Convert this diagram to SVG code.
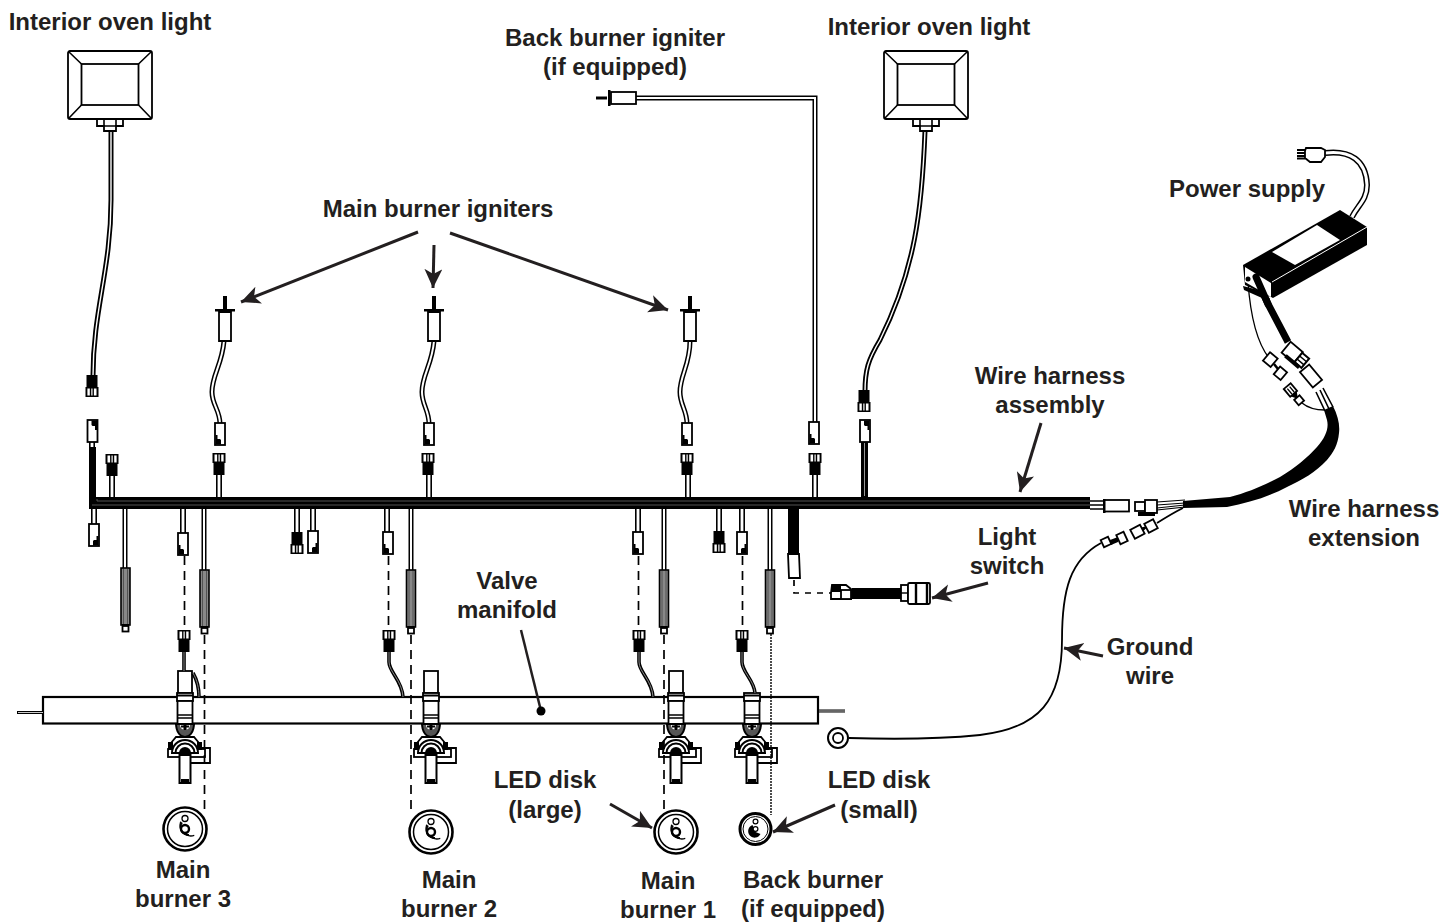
<svg xmlns="http://www.w3.org/2000/svg" width="1444" height="924" viewBox="0 0 1444 924">
<style>
text{font-family:"Liberation Sans",Arial,sans-serif;font-weight:700;font-size:24px;fill:#231f20;text-anchor:middle}
.l{fill:none;stroke:#000;stroke-width:1.6}
.s{fill:#fff;stroke:#000;stroke-width:1.8}
.k{fill:#000;stroke:none}
.wo{fill:none;stroke:#000;stroke-width:6}
.wi{fill:none;stroke:#fff;stroke-width:2.8}
.d{fill:none;stroke:#000;stroke-width:1.7;stroke-dasharray:9 6}
.a{fill:none;stroke:#231f20;stroke-width:3;marker-end:url(#ah)}
.vw{fill:none;stroke:#000;stroke-width:3.600}
.vi{fill:none;stroke:#888;stroke-width:1}
</style>
<defs>
<marker id="ah" markerUnits="userSpaceOnUse" markerWidth="24" markerHeight="20" refX="19" refY="9" orient="auto"><path d="M0,0 L19,9 L0,18 L5,9Z" fill="#231f20"/></marker>
<g id="wc"><rect class="s" x="-5" y="0" width="10" height="22"/><path class="k" d="M-4.500,12 H-2.500 V16 H0 L1,17 V21.500 H-4.500Z"/></g>
<g id="bc"><rect class="k" x="-6.500" y="0" width="13" height="10"/><rect x="-4.500" y="1.500" width="2.600" height="7" fill="#fff"/><rect x="-.5" y="1.500" width="1.200" height="7" fill="#fff"/><rect x="2.200" y="1.500" width="2.400" height="7" fill="#fff"/><rect class="k" x="-5.500" y="9" width="11" height="13"/></g>
<g id="sl"><rect x="-4.500" y="0" width="9" height="57" fill="#888" stroke="#000" stroke-width="1.600"/><path d="M-2,1V56M2,1V56" stroke="#444" stroke-width=".8"/><rect class="s" x="-3" y="58" width="6" height="5.500"/><rect class="k" x="-3.500" y="56" width="7" height="2"/></g>
<g id="lamp"><rect class="s" x="-42" y="0" width="84" height="68" rx="2"/><rect class="s" x="-28.500" y="13" width="57" height="41"/><path class="l" d="M-41,1 L-28.500,13 M41,1 L28.500,13 M-41,67 L-28.500,54 M41,67 L28.500,54"/><path class="s" d="M-13,68 H13 V75 H6 V80 H-6 V75 H-13Z"/><path class="l" d="M-6,68 V75 H6 V68"/></g>
<g id="ign"><rect class="k" x="-2" y="-13" width="4" height="13"/><rect class="k" x="-10" y="0" width="20" height="2.500"/><path class="s" d="M-6,3 H6 V32 H-6Z"/></g>
<g id="valve-top"><rect class="s" x="-7" y="-26" width="14" height="22"/></g>
<g id="valve"><rect class="s" x="-8" y="-4" width="16" height="8"/><rect x="-8" y="-2.500" width="16" height="2" fill="#000"/><rect class="s" x="-7.500" y="4" width="15" height="23"/><path class="l" d="M-7.500,18H7.500M-7.500,21H7.500"/>
<path class="s" d="M-14,55 V46 L-9,40 H9 L14,46 V55"/><path d="M-9,26 C-9,36 -4,40 0,40 C4,40 9,36 9,26 M-10,27H10" fill="#555" stroke="#000" stroke-width="2"/><path d="M-5,28 A5,5 0 0 0 5,28Z" fill="#fff"/><path class="k" d="M-1.500,26H1.500V33H-1.500ZM-4,28.500H4V30.500H-4Z"/>
<path class="s" d="M8,51 H25 V66 H5"/><rect class="s" x="-17" y="52" width="37" height="8"/>
<rect class="k" x="-17" y="45" width="5" height="8"/><rect class="k" x="12" y="45" width="5" height="8"/>
<path d="M-13,56 A13,13 0 0 1 13,56Z" fill="#fff" stroke="#000" stroke-width="2"/><path d="M-9.500,56 A9.500,9.500 0 0 1 9.500,56" fill="none" stroke="#000" stroke-width="2"/><path d="M-6,56 A6,6 0 0 1 6,56Z" fill="#000"/>
<path d="M-5.500,58 H5.500 V86 H3 V83 H1 V86 H-1 V83 H-3 V86 H-5.500Z" fill="#fff" stroke="#000" stroke-width="2"/></g>
<g id="disk"><circle r="21.500" fill="#fff" stroke="#000" stroke-width="2.600"/><circle r="17.500" fill="none" stroke="#000" stroke-width="1.500"/><circle cy="-10.500" r="3" fill="#fff" stroke="#000" stroke-width="1.300"/><circle r="4" fill="#fff" stroke="#000" stroke-width="2.400"/><path d="M-3,-6.500 A8,8 0 0 0 4,6" fill="none" stroke="#000" stroke-width="1.800"/><path d="M-3,-8 A11,11 0 0 0 8,8" fill="none" stroke="#000" stroke-width="1.300" transform="rotate(-10)"/></g>
<g id="disks"><circle r="15.500" fill="#fff" stroke="#000" stroke-width="3"/><circle r="12.500" fill="none" stroke="#000" stroke-width="1"/><circle cy="-7.500" r="2.400" fill="#fff" stroke="#000" stroke-width="1.200"/><path d="M-3,-4 A6.500,6.500 0 1 0 5,5 L0,3Z" fill="#000"/><circle r="2.400" fill="#fff" stroke="#000" stroke-width="1.200"/></g>
<g id="ftab"><rect class="s" x="-5" y="-5" width="11" height="10"/><path class="k" d="M6,-2 L10,-1 V1 L6,2Z"/></g>
</defs>

<g id="manifold"><rect x="43" y="697" width="775" height="26.500" fill="#fff" stroke="#000" stroke-width="2.200"/><path d="M17,712.500H43M818,711H845" stroke="#000" stroke-width="3"/><path d="M18,712.500H43M819,711H845" stroke="#fff" stroke-width=".8"/></g>

<g id="valve-3"><use href="#valve-top" x="185" y="697"/><use href="#valve" x="185" y="697"/></g>
<g id="valve-2"><use href="#valve-top" x="431" y="697"/><use href="#valve" x="431" y="697"/></g>
<g id="valve-1"><use href="#valve-top" x="676" y="697"/><use href="#valve" x="676" y="697"/></g>
<g id="valve-back"><use href="#valve" x="752" y="697"/></g>

<g id="connectors">
<path class="wo" d="M111,131 V200 C111,270 93,310 93,376" style="stroke-width:5"/><path class="wi" d="M111,131 V200 C111,270 93,310 93,376" style="stroke-width:1.400"/>
<path class="wo" d="M925,131 C922,210 915,270 880,340 C868,360 865,370 865,392" style="stroke-width:5"/><path class="wi" d="M925,131 C922,210 915,270 880,340 C868,360 865,370 865,392" style="stroke-width:1.400"/>
<path class="wo" d="M224,341 C222,365 212,375 212,392 C212,405 220,410 220,424" style="stroke-width:5"/><path class="wi" d="M224,341 C222,365 212,375 212,392 C212,405 220,410 220,424" style="stroke-width:2"/>
<path class="wo" d="M434,341 C432,365 422,375 422,392 C422,405 429,410 429,424" style="stroke-width:5"/><path class="wi" d="M434,341 C432,365 422,375 422,392 C422,405 429,410 429,424" style="stroke-width:2"/>
<path class="wo" d="M690,341 C690,365 680,375 680,392 C680,405 687,410 687,424" style="stroke-width:5"/><path class="wi" d="M690,341 C690,365 680,375 680,392 C680,405 687,410 687,424" style="stroke-width:2"/>
<path class="wo" d="M636,98 H815 V423" style="stroke-width:5"/><path class="wi" d="M636,98 H815 V423" style="stroke-width:2"/>
<path class="wo" d="M112,476V497M219,474V497M429,474V497M688,474V497M815,474V497"/><path class="wi" d="M112,476V497M219,474V497M429,474V497M688,474V497M815,474V497"/>
<rect class="k" x="861" y="441" width="7" height="56"/><path d="M864.500,443V496" stroke="#fff" stroke-width=".6"/>
<path class="wo" d="M94,509V525M183,509V533M297,509V533M313,509V532M387,509V533M638,509V533M719,509V532M742,509V533"/><path class="wi" d="M94,509V525M183,509V533M297,509V533M313,509V532M387,509V533M638,509V533M719,509V532M742,509V533"/>
<path class="wo" d="M125,509V568M204,509V570M411,509V570M664,509V570M770,509V570" style="stroke-width:5"/><path class="wi" d="M125,509V568M204,509V570M411,509V570M664,509V570M770,509V570" style="stroke-width:2"/>
<path class="d" d="M184.500,556V630M204.500,635V815M388.500,556V630M411,635V815M638.500,556V630M664,635V815M742.500,556V630"/>
<path d="M771,634V815" fill="none" stroke="#000" stroke-width="1.400" stroke-dasharray="2 1"/>
<path class="d" d="M794,580V593H831" style="stroke-dasharray:6 6"/>
<path class="vw" d="M184,652V671M193,673C197,680 199,688 199,697"/><path class="vi" d="M184,652V671M193,673C197,680 199,688 199,697"/>
<path class="vw" d="M389,652V662C389,672 402,680 403,697"/><path class="vi" d="M389,652V662C389,672 402,680 403,697"/>
<path class="vw" d="M639,652V662C639,672 652,680 653,697"/><path class="vi" d="M639,652V662C639,672 652,680 653,697"/>
<path class="vw" d="M742,652V662C742,672 754,680 755,693"/><path class="vi" d="M742,652V662C742,672 754,680 755,693"/>
<path class="k" d="M89,447H96V497H1090V509H89Z"/>
<path d="M97,499V501H1090M92,505H1090" fill="none" stroke="#777" stroke-width=".7"/>
<path d="M92,442V447" class="wo"/><path d="M92,442V447" class="wi"/>
<rect class="k" x="788" y="509" width="11" height="44"/>
<path d="M1090,501H1104M1090,505H1104M1090,509H1104" stroke="#000" stroke-width="1.300"/>
<path d="M1157,502L1185,500M1157,505L1185,503M1157,508L1185,505M1157,510L1185,507" stroke="#000" stroke-width="1.200"/>
<path class="k" d="M1183,501 L1230,497 C1247,493 1265,485 1280,477 C1295,468 1308,457 1317,447 C1326,437 1329,428 1327,420 L1324,410 L1333,406 C1338,416 1340,425 1339,433 C1338,445 1333,453 1327,460 C1316,472 1302,480 1287,487 C1268,497 1248,503 1227,507 L1183,508Z"/>
<path d="M1325,411L1316,392M1329,409L1320,390M1333,407L1323,388" stroke="#000" stroke-width="1.600"/>
<path class="l" d="M1302,403 C1308,408 1316,410 1325,410" style="stroke-width:1.300"/>
<path d="M1183,508 C1175,512 1165,518 1157,523M1101,543 C1070,560 1062,590 1062,640 C1062,700 1040,728 980,735 C930,740 880,739 849,738" fill="none" stroke="#000" stroke-width="1.800"/>
<path d="M1256,277 L1268,304 L1288,342" fill="none" stroke="#000" stroke-width="7"/>
<path d="M1248,282 C1250,310 1255,340 1269,358" fill="none" stroke="#000" stroke-width="1.300"/>
<path d="M1325,153 C1350,150 1366,160 1367,185 C1367,200 1358,205 1352,217" fill="none" stroke="#000" stroke-width="6"/><path d="M1325,153 C1350,150 1366,160 1367,185 C1367,200 1358,205 1352,217" fill="none" stroke="#fff" stroke-width="3"/>
<path class="a" d="M418,232L241,302"/><path class="a" d="M434,245L433,288"/><path class="a" d="M450,233L668,310"/>
<path class="a" d="M1041,423L1020,492"/><path class="a" d="M988,583L932,598"/>
<path class="a" d="M1103,656L1064,648"/><path class="a" d="M610,804L652,828"/><path class="a" d="M835,805L773,832"/>
<path d="M521,630L541,711" stroke="#231f20" stroke-width="2.500"/><circle cx="541" cy="711" r="4.500" fill="#000"/>
</g>

<g id="oven-light-left"><use href="#lamp" x="110" y="51"/></g>
<g id="oven-light-right"><use href="#lamp" x="926" y="51"/></g>
<g id="igniter-3"><use href="#ign" x="225" y="309"/></g>
<g id="igniter-2"><use href="#ign" x="434" y="309"/></g>
<g id="igniter-1"><use href="#ign" x="690" y="309"/></g>
<g id="igniter-back"><path class="k" d="M596,96.500H607V99.500H596Z"/><rect class="k" x="608" y="90" width="2.500" height="16"/><rect class="s" x="611" y="92" width="25" height="12"/></g>

<g id="harness-connectors">
<use href="#bc" transform="translate(92,397) rotate(180)"/><use href="#wc" transform="translate(92.500,442) rotate(180)"/><use href="#bc" x="112" y="454"/>
<use href="#bc" transform="translate(864,412) rotate(180)"/><use href="#wc" transform="translate(865,442) rotate(180)"/>
<use href="#wc" x="220" y="423"/><use href="#bc" x="219" y="453"/>
<use href="#wc" x="429" y="423"/><use href="#bc" x="428" y="453"/>
<use href="#wc" x="687" y="423"/><use href="#bc" x="687" y="453"/>
<use href="#wc" x="814" y="422"/><use href="#bc" x="815" y="453"/>
<use href="#wc" transform="translate(94,524) scale(-1,1)"/>
<use href="#wc" x="183" y="533"/><use href="#bc" x="184" y="630"/>
<use href="#bc" transform="translate(297,554) rotate(180)"/><use href="#wc" transform="translate(313,531) scale(-1,1)"/>
<use href="#wc" x="388" y="532"/><use href="#bc" x="389" y="630"/>
<use href="#wc" x="638" y="532"/><use href="#bc" x="639" y="630"/>
<use href="#bc" transform="translate(719,553) rotate(180)"/>
<use href="#wc" transform="translate(742,532) scale(-1,1)"/><use href="#bc" x="742" y="630"/>
<use href="#sl" x="125.500" y="568"/><use href="#sl" x="204.500" y="570"/><use href="#sl" x="411" y="570"/><use href="#sl" x="664" y="570"/><use href="#sl" x="770" y="570"/>
<path class="s" d="M788,554H799L800,578H789Z"/>
</g>

<g id="light-switch"><path class="s" d="M832,585H846L851,589V599H831V593Z"/><rect class="k" x="831" y="586" width="10" height="6"/><rect x="841" y="590" width="10" height="9" fill="#fff" stroke="#000" stroke-width="1.800"/><rect class="k" x="852" y="588" width="49" height="11"/><rect class="s" x="901" y="585" width="7" height="16"/><rect class="s" x="908" y="583" width="22" height="21" rx="1.500"/><path d="M916,582V605M927,582V605" stroke="#000" stroke-width="2.400"/><path d="M901,593H908" stroke="#000" stroke-width="1.400"/></g>

<g id="disk-3"><use href="#disk" x="185" y="829"/></g>
<g id="disk-2"><use href="#disk" x="431" y="832"/></g>
<g id="disk-1"><use href="#disk" x="676" y="832"/></g>
<g id="disk-back"><use href="#disks" x="755.500" y="829"/></g>
<g id="ground-ring"><circle cx="838" cy="738" r="10" fill="#fff" stroke="#000" stroke-width="2"/><circle cx="838" cy="738" r="5" fill="#fff" stroke="#000" stroke-width="1.800"/></g>

<g id="extension-connectors">
<rect class="s" x="1104" y="500" width="25" height="11.500" stroke-width="2"/><rect class="k" x="1103" y="499" width="2.500" height="14"/>
<rect class="s" x="1135" y="502" width="10" height="9"/><rect class="s" x="1145" y="500" width="12" height="13"/><rect class="k" x="1138" y="512" width="17" height="4"/>
<use href="#ftab" transform="translate(1137,532) rotate(-28)"/><rect class="s" x="1146" y="521" width="10" height="10" transform="rotate(-28 1151 526)"/>
<rect class="s" x="1102" y="538" width="8" height="8" transform="rotate(-25 1106 542)"/><path class="k" d="M1110,540L1118,537L1118,542L1111,545Z"/><rect class="s" x="1118" y="533" width="8" height="10" transform="rotate(-25 1122 538)"/>
</g>

<g id="power-supply">
<path class="k" d="M1243,265L1340,210L1367,227V245L1273,298L1245,285Z"/>
<path d="M1272,252L1317,225L1340,240L1295,265Z" fill="#fff"/>
<path d="M1272,282L1367,227" stroke="#fff" stroke-width="1"/>
<path d="M1245,267L1271,283V297L1245,282Z" fill="#fff"/>
<path class="k" d="M1243,286L1262,291L1270,299L1262,298L1244,290Z"/>
<path d="M1256,277L1268,304" stroke="#000" stroke-width="7" stroke-linecap="round"/>
<circle cx="1248" cy="279" r="2.500"/>
<path class="s" d="M1306,148H1321L1325,150V157L1321,162H1310L1305,158V151Z" stroke-width="2.400"/><path d="M1297,150H1305M1297,153H1305M1297,156H1305M1297,158.500H1305" stroke="#000" stroke-width="1.800"/>
<g transform="translate(1293,353) rotate(40)"><rect class="s" x="-9" y="-7" width="16" height="14" stroke-width="2.200"/><rect x="7" y="-6" width="9" height="12" fill="#fff" stroke="#000" stroke-width="2"/><path d="M7,-2H16M7,2H16" stroke="#000" stroke-width="1.500"/><rect class="k" x="-4" y="5" width="18" height="4"/></g>
<rect class="s" x="1265" y="354" width="10" height="11" transform="rotate(40 1270 360)"/><rect class="s" x="1276" y="368" width="9" height="10" transform="rotate(40 1280 373)"/><path d="M1274,364L1278,369" stroke="#000" stroke-width="2.500"/>
<rect class="s" x="1301" y="370" width="20" height="12" transform="rotate(50 1311 376)" stroke-width="2.200"/>
<g transform="translate(1293,393) rotate(50)"><rect class="s" x="-9" y="-4.500" width="10" height="9"/><path d="M-7,-1.500H0M-7,1.500H0" stroke="#000" stroke-width="1.300"/><path class="k" d="M1,-4L6,-1V1L1,4Z"/><rect class="s" x="6" y="-3.500" width="7" height="7"/></g>
</g>

<g id="labels">
<text x="110" y="30">Interior oven light</text>
<text x="615" y="46">Back burner igniter</text><text x="615" y="75">(if equipped)</text>
<text x="929" y="35">Interior oven light</text>
<text x="438" y="217">Main burner igniters</text>
<text x="1247" y="197">Power supply</text>
<text x="1050" y="384">Wire harness</text><text x="1050" y="413">assembly</text>
<text x="1364" y="517">Wire harness</text><text x="1364" y="546">extension</text>
<text x="1007" y="545">Light</text><text x="1007" y="574">switch</text>
<text x="507" y="589">Valve</text><text x="507" y="618">manifold</text>
<text x="1150" y="655">Ground</text><text x="1150" y="684">wire</text>
<text x="545" y="788">LED disk</text><text x="545" y="818">(large)</text>
<text x="879" y="788">LED disk</text><text x="879" y="818">(small)</text>
<text x="183" y="878">Main</text><text x="183" y="907">burner 3</text>
<text x="449" y="888">Main</text><text x="449" y="917">burner 2</text>
<text x="668" y="889">Main</text><text x="668" y="918">burner 1</text>
<text x="813" y="888">Back burner</text><text x="813" y="917">(if equipped)</text>
</g>
</svg>
